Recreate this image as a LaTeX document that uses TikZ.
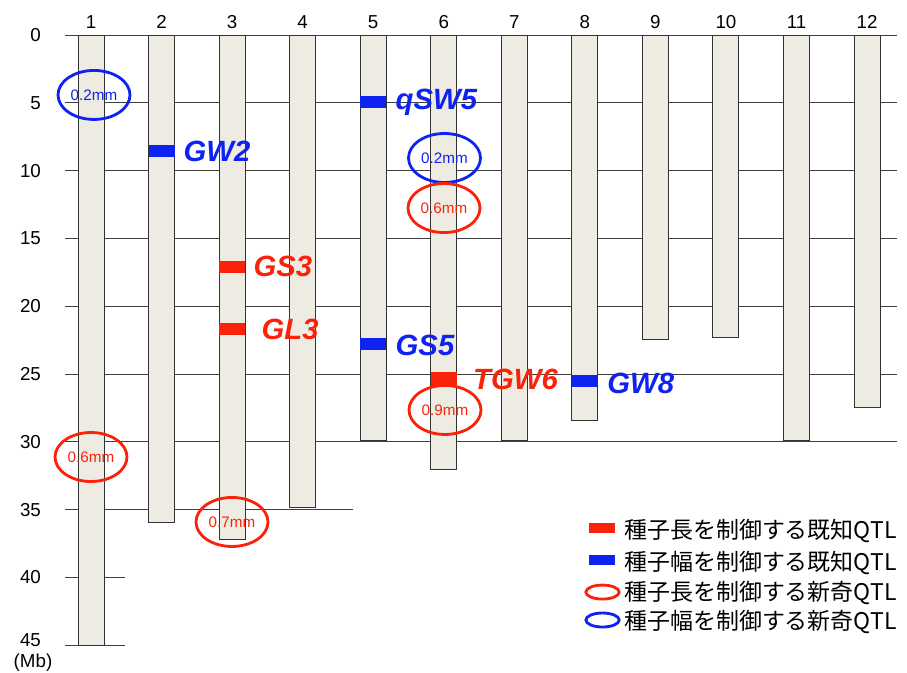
\documentclass[tikz,border=0pt]{standalone}
\usepackage{fontspec}
\setmainfont{Liberation Sans}
\newfontfamily\jpfont{Noto Sans CJK JP}
\usetikzlibrary{shapes.geometric}

\definecolor{qtlred}{RGB}{250,35,10}
\definecolor{qtlblue}{RGB}{15,35,240}
\definecolor{chromfill}{RGB}{238,236,226}

\begin{document}
\begin{tikzpicture}[
  x=0.03cm, y=-0.4068cm,
  grid/.style={draw=black!75, line width=0.8pt},
  chrom/.style={draw=black!80, fill=chromfill, line width=0.8pt, minimum width=0.78cm, inner sep=0pt, anchor=north},
  bar/.style={fill=#1, minimum width=0.78cm, minimum height=0.35cm, inner sep=0pt},
  gene/.style={anchor=west, inner sep=0pt, text=#1, font=\fontsize{25}{25}\selectfont\bfseries\itshape},
  novel/.style={draw=#1, ellipse, line width=2.4pt, minimum width=2.16cm, minimum height=1.47cm, inner sep=0pt, text=#1, font=\fontsize{13}{13}\selectfont},
  num/.style={font=\fontsize{16}{16}\selectfont},
  legend/.style={anchor=west, inner sep=0pt, font=\jpfont\fontsize{19.6}{19.6}\selectfont}
]

\useasboundingbox (0,-2.581) rectangle (907,46.976);

% Grid lines
\foreach \m in {0,5,...,30} \draw[grid] (65,\m) -- (897,\m);
\draw[grid] (65,35) -- (353,35);
\foreach \m in {40,45} \draw[grid] (65,\m) -- (125,\m);

% Axis labels
\foreach \m in {0,5,...,40} \node[num, anchor=east] (mb\m) at (45,\m) {\m};
\node[num, anchor=east] (mb45) at (45,44.6) {45};
\node[num] (unit) at (33,46.3) {(Mb)};

% Chromosomes
\foreach \c/\len in {1/45, 2/35.9, 3/37.2, 4/34.8, 5/29.9, 6/32.0,
                     7/29.9, 8/28.4, 9/22.4, 10/22.3, 11/29.9, 12/27.4} {
  \node[chrom, minimum height=\len*0.4068cm] (chr\c) at ({91+70.55*(\c-1)},0) {};
  \node[num] (n\c) at ({91+70.55*(\c-1)},-0.95) {\c};
}

% Known QTLs
\node[bar=qtlblue] (gw2) at (161.55,8.55) {};
\node[gene=qtlblue] (gw2lab) at ([xshift=0.26cm]gw2.east) {GW2};
\node[bar=qtlblue] (qsw5) at (373.2,4.95) {};
\node[gene=qtlblue] (qsw5lab) at ([xshift=0.27cm]qsw5.east) {qSW5};
\node[bar=qtlred] (gs3) at (232.1,17.1) {};
\node[gene=qtlred] (gs3lab) at ([xshift=0.24cm]gs3.east) {GS3};
\node[bar=qtlred] (gl3) at (232.1,21.7) {};
\node[gene=qtlred] (gl3lab) at ([xshift=0.48cm]gl3.east) {GL3};
\node[bar=qtlblue] (gs5) at (373.2,22.8) {};
\node[gene=qtlblue] (gs5lab) at ([xshift=0.27cm,yshift=-1pt]gs5.east) {GS5};
\node[bar=qtlred, minimum height=0.45cm] (tgw6) at (443.75,25.4) {};
\node[gene=qtlred] (tgw6lab) at ([xshift=0.48cm]tgw6.east) {TGW6};
\node[bar=qtlblue] (gw8) at (584.85,25.5) {};
\node[gene=qtlblue] (gw8lab) at ([xshift=0.27cm,yshift=-2pt]gw8.east) {GW8};

% Novel QTLs
\node[novel=qtlblue] (nw1) at (94,4.42) {0.2mm};
\node[novel=qtlblue] (nw6) at (444.5,9.07) {0.2mm};
\node[novel=qtlred]  (nl6a) at (444,12.76) {0.6mm};
\node[novel=qtlred]  (nl6b) at (445,27.65) {0.9mm};
\node[novel=qtlred]  (nl1) at (91,31.12) {0.6mm};
\node[novel=qtlred]  (nl3) at (232,35.91) {0.7mm};

% Legend
\node[bar=qtlred, minimum height=0.3cm] (kl) at (601.5,36.36) {};
\node[legend] (kltext) at (624,36.6) {種子長を制御する既知QTL};
\node[bar=qtlblue, minimum height=0.3cm] (kw) at (601.5,38.72) {};
\node[legend] (kwtext) at (624,38.95) {種子幅を制御する既知QTL};
\node[draw=qtlred, ellipse, line width=2.4pt, minimum width=1.0cm, minimum height=0.42cm] (nl) at (602.5,41.08) {};
\node[legend] (nltext) at (624,41.15) {種子長を制御する新奇QTL};
\node[draw=qtlblue, ellipse, line width=2.4pt, minimum width=1.0cm, minimum height=0.42cm] (nw) at (602.5,43.14) {};
\node[legend] (nwtext) at (624,43.3) {種子幅を制御する新奇QTL};

\end{tikzpicture}
\end{document}
